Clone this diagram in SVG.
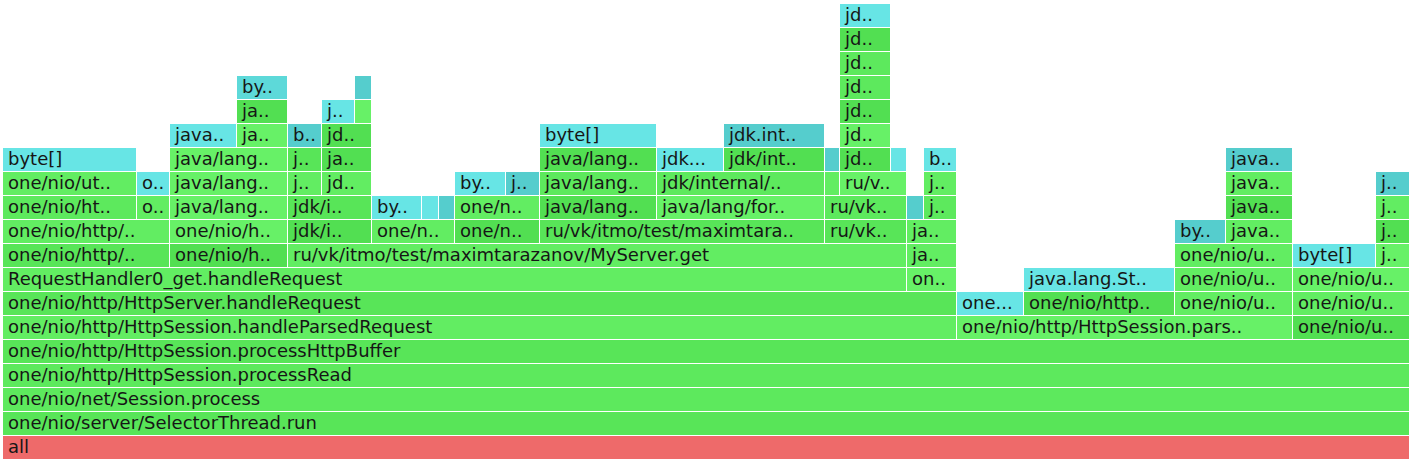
<svg xmlns="http://www.w3.org/2000/svg" width="1413" height="461" viewBox="0 0 1413 461">
<style>
rect{height:23px}
text{font-family:"DejaVu Sans",Verdana,sans-serif;font-size:18px;fill:#161616}
.r{fill:#EE6A6A}.g1{fill:#52DF52}.g2{fill:#58E558}.g3{fill:#5DE95D}.g4{fill:#62ED62}.g5{fill:#67F167}
.c1{fill:#67E5E5}.c2{fill:#55CDCD}.c3{fill:#5DD9D9}
</style>
<rect x="0" y="0" width="1413" height="461" fill="#FFFFFF" style="height:461px"/>
<g id="connectors"/>
<g id="row0"><g id="n0_0"><rect class="r" x="3" y="436" width="1406"/><text x="8" y="453">all</text></g></g>
<g id="row1"><g id="n1_0"><rect class="g2" x="3" y="412" width="1406"/><text x="8" y="429">one/nio/server/SelectorThread.run</text></g></g>
<g id="row2"><g id="n2_0"><rect class="g3" x="3" y="388" width="1406"/><text x="8" y="405">one/nio/net/Session.process</text></g></g>
<g id="row3"><g id="n3_0"><rect class="g3" x="3" y="364" width="1406"/><text x="8" y="381">one/nio/http/HttpSession.processRead</text></g></g>
<g id="row4"><g id="n4_0"><rect class="g2" x="3" y="340" width="1406"/><text x="8" y="357">one/nio/http/HttpSession.processHttpBuffer</text></g></g>
<g id="row5">
<g id="n5_0"><rect class="g4" x="3" y="316" width="953"/><text x="8" y="333">one/nio/http/HttpSession.handleParsedRequest</text></g>
<g id="n5_1"><rect class="g5" x="957" y="316" width="335"/><text x="962" y="333">one/nio/http/HttpSession.pars..</text></g>
<g id="n5_2"><rect class="g1" x="1293" y="316" width="116"/><text x="1298" y="333">one/nio/u..</text></g>
</g>
<g id="row6">
<g id="n6_0"><rect class="g2" x="3" y="292" width="953"/><text x="8" y="309">one/nio/http/HttpServer.handleRequest</text></g>
<g id="n6_1"><rect class="c1" x="957" y="292" width="66"/><text x="962" y="309">one...</text></g>
<g id="n6_2"><rect class="g1" x="1024" y="292" width="150"/><text x="1029" y="309">one/nio/http..</text></g>
<g id="n6_3"><rect class="g4" x="1175" y="292" width="117"/><text x="1180" y="309">one/nio/u..</text></g>
<g id="n6_4"><rect class="g4" x="1293" y="292" width="116"/><text x="1298" y="309">one/nio/u..</text></g>
</g>
<g id="row7">
<g id="n7_0"><rect class="g4" x="3" y="268" width="903"/><text x="8" y="285">RequestHandler0_get.handleRequest</text></g>
<g id="n7_1"><rect class="g5" x="907" y="268" width="49"/><text x="912" y="285">on..</text></g>
<g id="n7_2"><rect class="c1" x="1024" y="268" width="150"/><text x="1029" y="285">java.lang.St..</text></g>
<g id="n7_3"><rect class="g4" x="1175" y="268" width="117"/><text x="1180" y="285">one/nio/u..</text></g>
<g id="n7_4"><rect class="g5" x="1293" y="268" width="116"/><text x="1298" y="285">one/nio/u..</text></g>
</g>
<g id="row8">
<g id="n8_0"><rect class="g2" x="3" y="244" width="166"/><text x="8" y="261">one/nio/http/..</text></g>
<g id="n8_1"><rect class="g1" x="170" y="244" width="117"/><text x="175" y="261">one/nio/h..</text></g>
<g id="n8_2"><rect class="g4" x="288" y="244" width="618"/><text x="293" y="261">ru/vk/itmo/test/maximtarazanov/MyServer.get</text></g>
<g id="n8_3"><rect class="g4" x="907" y="244" width="49"/><text x="912" y="261">ja..</text></g>
<g id="n8_4"><rect class="g4" x="1175" y="244" width="117"/><text x="1180" y="261">one/nio/u..</text></g>
<g id="n8_5"><rect class="c1" x="1293" y="244" width="82"/><text x="1298" y="261">byte[]</text></g>
<g id="n8_6"><rect class="g5" x="1376" y="244" width="33"/><text x="1381" y="261">j..</text></g>
</g>
<g id="row9">
<g id="n9_0"><rect class="g4" x="3" y="220" width="166"/><text x="8" y="237">one/nio/http/..</text></g>
<g id="n9_1"><rect class="g5" x="170" y="220" width="117"/><text x="175" y="237">one/nio/h..</text></g>
<g id="n9_2"><rect class="g1" x="288" y="220" width="83"/><text x="293" y="237">jdk/i..</text></g>
<g id="n9_3"><rect class="g4" x="372" y="220" width="82"/><text x="377" y="237">one/n..</text></g>
<g id="n9_4"><rect class="g1" x="455" y="220" width="84"/><text x="460" y="237">one/n..</text></g>
<g id="n9_5"><rect class="g2" x="540" y="220" width="284"/><text x="545" y="237">ru/vk/itmo/test/maximtara..</text></g>
<g id="n9_6"><rect class="g2" x="825" y="220" width="81"/><text x="830" y="237">ru/vk..</text></g>
<g id="n9_7"><rect class="g4" x="907" y="220" width="49"/><text x="912" y="237">ja..</text></g>
<g id="n9_8"><rect class="c2" x="1175" y="220" width="50"/><text x="1180" y="237">by..</text></g>
<g id="n9_9"><rect class="g4" x="1226" y="220" width="66"/><text x="1231" y="237">java..</text></g>
<g id="n9_10"><rect class="g1" x="1376" y="220" width="33"/><text x="1381" y="237">j..</text></g>
</g>
<g id="row10">
<g id="n10_0"><rect class="g3" x="3" y="196" width="133"/><text x="8" y="213">one/nio/ht..</text></g>
<g id="n10_1"><rect class="g4" x="137" y="196" width="32"/><text x="142" y="213">o..</text></g>
<g id="n10_2"><rect class="g5" x="170" y="196" width="117"/><text x="175" y="213">java/lang..</text></g>
<g id="n10_3"><rect class="g2" x="288" y="196" width="83"/><text x="293" y="213">jdk/i..</text></g>
<g id="n10_4"><rect class="c1" x="372" y="196" width="49"/><text x="377" y="213">by..</text></g>
<g id="n10_5"><rect class="c1" x="422" y="196" width="16"/></g>
<g id="n10_6"><rect class="c2" x="439" y="196" width="15"/></g>
<g id="n10_7"><rect class="g4" x="455" y="196" width="84"/><text x="460" y="213">one/n..</text></g>
<g id="n10_8"><rect class="g1" x="540" y="196" width="116"/><text x="545" y="213">java/lang..</text></g>
<g id="n10_9"><rect class="g5" x="657" y="196" width="167"/><text x="662" y="213">java/lang/for..</text></g>
<g id="n10_10"><rect class="g3" x="825" y="196" width="81"/><text x="830" y="213">ru/vk..</text></g>
<g id="n10_11"><rect class="c2" x="907" y="196" width="16"/></g>
<g id="n10_12"><rect class="g3" x="924" y="196" width="32"/><text x="929" y="213">j..</text></g>
<g id="n10_13"><rect class="g1" x="1226" y="196" width="66"/><text x="1231" y="213">java..</text></g>
<g id="n10_14"><rect class="g4" x="1376" y="196" width="33"/><text x="1381" y="213">j..</text></g>
</g>
<g id="row11">
<g id="n11_0"><rect class="g4" x="3" y="172" width="133"/><text x="8" y="189">one/nio/ut..</text></g>
<g id="n11_1"><rect class="c1" x="137" y="172" width="32"/><text x="142" y="189">o..</text></g>
<g id="n11_2"><rect class="g5" x="170" y="172" width="117"/><text x="175" y="189">java/lang..</text></g>
<g id="n11_3"><rect class="g4" x="288" y="172" width="33"/><text x="293" y="189">j..</text></g>
<g id="n11_4"><rect class="g4" x="322" y="172" width="49"/><text x="327" y="189">jd..</text></g>
<g id="n11_5"><rect class="c1" x="455" y="172" width="50"/><text x="460" y="189">by..</text></g>
<g id="n11_6"><rect class="c2" x="506" y="172" width="33"/><text x="511" y="189">j..</text></g>
<g id="n11_7"><rect class="g3" x="540" y="172" width="116"/><text x="545" y="189">java/lang..</text></g>
<g id="n11_8"><rect class="g3" x="657" y="172" width="167"/><text x="662" y="189">jdk/internal/..</text></g>
<g id="n11_9"><rect class="g4" x="825" y="172" width="14"/></g>
<g id="n11_10"><rect class="g5" x="840" y="172" width="66"/><text x="845" y="189">ru/v..</text></g>
<g id="n11_11"><rect class="g4" x="924" y="172" width="32"/><text x="929" y="189">j..</text></g>
<g id="n11_12"><rect class="g4" x="1226" y="172" width="66"/><text x="1231" y="189">java..</text></g>
<g id="n11_13"><rect class="c2" x="1376" y="172" width="33"/><text x="1381" y="189">j..</text></g>
</g>
<g id="row12">
<g id="n12_0"><rect class="c1" x="3" y="148" width="133"/><text x="8" y="165">byte[]</text></g>
<g id="n12_1"><rect class="g5" x="170" y="148" width="117"/><text x="175" y="165">java/lang..</text></g>
<g id="n12_2"><rect class="g2" x="288" y="148" width="33"/><text x="293" y="165">j..</text></g>
<g id="n12_3"><rect class="g1" x="322" y="148" width="49"/><text x="327" y="165">ja..</text></g>
<g id="n12_4"><rect class="g1" x="540" y="148" width="116"/><text x="545" y="165">java/lang..</text></g>
<g id="n12_5"><rect class="c1" x="657" y="148" width="66"/><text x="662" y="165">jdk...</text></g>
<g id="n12_6"><rect class="g1" x="724" y="148" width="100"/><text x="729" y="165">jdk/int..</text></g>
<g id="n12_7"><rect class="c2" x="825" y="148" width="14"/></g>
<g id="n12_8"><rect class="g1" x="840" y="148" width="50"/><text x="845" y="165">jd..</text></g>
<g id="n12_9"><rect class="c1" x="891" y="148" width="15"/></g>
<g id="n12_10"><rect class="c1" x="924" y="148" width="32"/><text x="929" y="165">b..</text></g>
<g id="n12_11"><rect class="c2" x="1226" y="148" width="66"/><text x="1231" y="165">java..</text></g>
</g>
<g id="row13">
<g id="n13_0"><rect class="c1" x="170" y="124" width="66"/><text x="175" y="141">java..</text></g>
<g id="n13_1"><rect class="g5" x="237" y="124" width="50"/><text x="242" y="141">ja..</text></g>
<g id="n13_2"><rect class="c2" x="288" y="124" width="33"/><text x="293" y="141">b..</text></g>
<g id="n13_3"><rect class="g1" x="322" y="124" width="49"/><text x="327" y="141">jd..</text></g>
<g id="n13_4"><rect class="c1" x="540" y="124" width="116"/><text x="545" y="141">byte[]</text></g>
<g id="n13_5"><rect class="c2" x="724" y="124" width="100"/><text x="729" y="141">jdk.int..</text></g>
<g id="n13_6"><rect class="g5" x="840" y="124" width="50"/><text x="845" y="141">jd..</text></g>
</g>
<g id="row14">
<g id="n14_0"><rect class="g1" x="237" y="100" width="50"/><text x="242" y="117">ja..</text></g>
<g id="n14_1"><rect class="c1" x="322" y="100" width="32"/><text x="327" y="117">j..</text></g>
<g id="n14_2"><rect class="g5" x="355" y="100" width="16"/></g>
<g id="n14_3"><rect class="g1" x="840" y="100" width="50"/><text x="845" y="117">jd..</text></g>
</g>
<g id="row15">
<g id="n15_0"><rect class="c3" x="237" y="76" width="50"/><text x="242" y="93">by..</text></g>
<g id="n15_1"><rect class="c2" x="355" y="76" width="16"/></g>
<g id="n15_2"><rect class="g3" x="840" y="76" width="50"/><text x="845" y="93">jd..</text></g>
</g>
<g id="row16"><g id="n16_0"><rect class="g3" x="840" y="52" width="50"/><text x="845" y="69">jd..</text></g></g>
<g id="row17"><g id="n17_0"><rect class="g1" x="840" y="28" width="50"/><text x="845" y="45">jd..</text></g></g>
<g id="row18"><g id="n18_0"><rect class="c1" x="840" y="4" width="50"/><text x="845" y="21">jd..</text></g></g>
</svg>
